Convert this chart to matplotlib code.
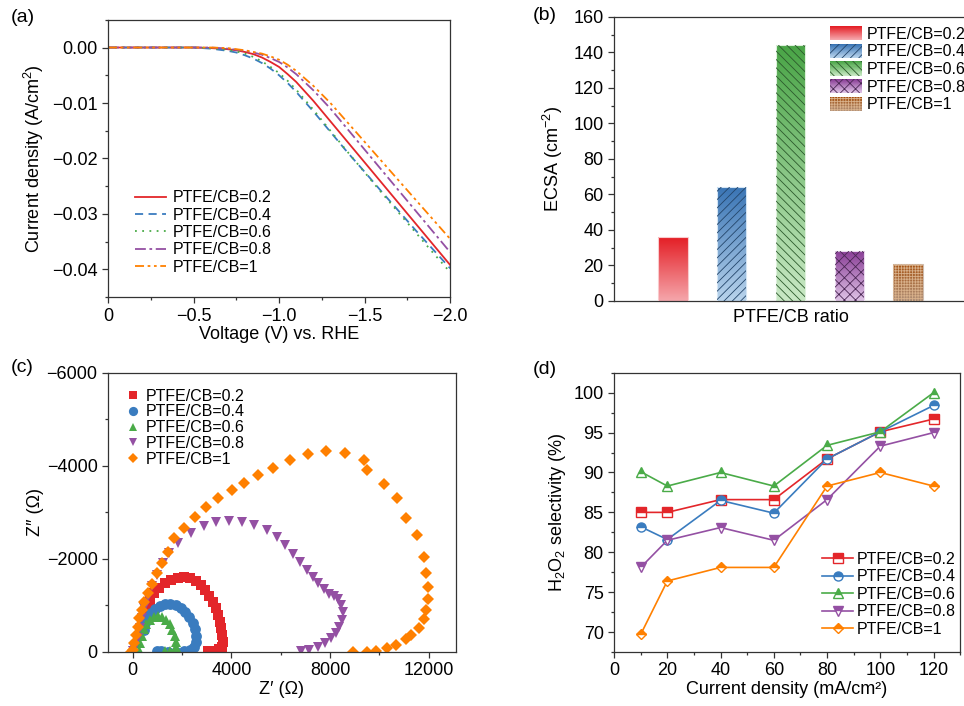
import numpy as np
import matplotlib
matplotlib.use('Agg')
import matplotlib.pyplot as plt
from matplotlib.patches import Rectangle
from matplotlib.legend_handler import HandlerBase
from matplotlib.colors import LinearSegmentedColormap, to_rgb
from matplotlib.ticker import MultipleLocator, FuncFormatter

plt.rcParams['font.family'] = ['Liberation Sans', 'DejaVu Sans']
plt.rcParams['mathtext.fontset'] = 'custom'
plt.rcParams['mathtext.rm'] = 'Liberation Sans'
plt.rcParams['mathtext.it'] = 'Liberation Sans:italic'
plt.rcParams['hatch.linewidth'] = 0.6

# ---------------- dados ----------------
labels = ['PTFE/CB=0.2', 'PTFE/CB=0.4', 'PTFE/CB=0.6', 'PTFE/CB=0.8', 'PTFE/CB=1']
cores = ['#e3262a', '#3a7cbf', '#4aab48', '#9450a3', '#ff8000']

# (a) LSV
volt = [0, -0.5, -0.6, -0.7, -0.75, -0.8, -0.85, -0.9, -0.95, -1.0, -1.05, -1.1, -1.2, -1.3,
        -1.4, -1.5, -1.6, -1.7, -1.8, -1.9, -2.0]
j_02 = [0, 0, -0.0001, -0.0003, -0.0005, -0.0008, -0.0012, -0.0018, -0.0026, -0.0035, -0.0048,
        -0.0062, -0.0096, -0.0133, -0.0170, -0.0207, -0.0244, -0.0281, -0.0318, -0.0355, -0.0392]
j_04 = [0, 0, -0.0002, -0.0006, -0.0009, -0.0014, -0.0020, -0.0028, -0.0038, -0.0050, -0.0064,
        -0.0080, -0.0115, -0.0152, -0.0189, -0.0224, -0.0260, -0.0295, -0.0330, -0.0364, -0.0398]
j_06 = [0, 0, -0.0001, -0.0004, -0.0007, -0.0011, -0.0017, -0.0025, -0.0035, -0.0046, -0.0060,
        -0.0076, -0.0112, -0.0150, -0.0188, -0.0225, -0.0262, -0.0298, -0.0334, -0.0370, -0.0405]
j_08 = [0, 0, 0, -0.0002, -0.0004, -0.0006, -0.0009, -0.0013, -0.0019, -0.0026, -0.0036,
        -0.0048, -0.0077, -0.0110, -0.0147, -0.0184, -0.0221, -0.0258, -0.0295, -0.0332, -0.0369]
j_1 = [0, 0, 0, -0.0001, -0.0003, -0.0005, -0.0008, -0.0011, -0.0016, -0.0022, -0.0031,
       -0.0042, -0.0069, -0.0100, -0.0135, -0.0170, -0.0205, -0.0240, -0.0275, -0.0310, -0.0345]

# (b) ECSA
ecsa = [36, 64, 144, 28, 21]
cor_topo = ['#e41f26', '#3a75b5', '#4aa547', '#8a3f97', '#a5500f']
cor_base = ['#f5a6ab', '#b8d3ec', '#c8e8c4', '#dfc3e6', '#ae8f78']
hachuras = [None, '////', '\\\\\\\\', 'xxx', '++++++']
cor_hach = ['none', '#24466b', '#2c5a2c', '#4b2755', '#d8b08a']

# (c) Nyquist
zr_02 = [405, 500, 608, 716, 878, 1080, 1310, 1553, 1823, 2093, 2336, 2565, 2767, 2943, 3105,
         3240, 3362, 3456, 3537, 3591, 3632, 3645, 3618, 3510, 3308, 3038]
zi_02 = [-473, -688, -903, -1104, -1261, -1383, -1476, -1548, -1598, -1612, -1583, -1526, -1440,
         -1333, -1211, -1082, -939, -796, -652, -509, -366, -222, -115, -57, -29, -14]
zr_04 = [446, 513, 608, 743, 905, 1094, 1310, 1526, 1742, 1944, 2133, 2295, 2430, 2525, 2579,
         2579, 2498, 2322, 2066, 1755, 1418, 1148, 985]
zi_04 = [-473, -616, -745, -846, -925, -989, -1032, -1039, -1011, -946, -853, -745, -616, -487,
         -351, -222, -115, -43, -14, -7, -7, -14, -28]
zr_06 = [270, 311, 365, 446, 554, 689, 851, 1026, 1202, 1364, 1499, 1607, 1701, 1755, 1769,
         1714, 1526, 1310]
zi_06 = [-43, -186, -344, -487, -602, -688, -753, -781, -760, -695, -595, -473, -344, -222, -115,
         -43, -14, -14]
zr_08 = [30, 68, 203, 297, 378, 473, 608, 783, 985, 1215, 1485, 1823, 2363, 2902, 3375, 3916,
         4415, 4928, 5441, 5832, 6184, 6508, 6791, 7061, 7290, 7493, 7736, 7966, 8169, 8331, 8439,
         8505, 8465, 8371, 8236, 8033, 7790, 7520, 7155, 6817]
zi_08 = [-20, -79, -294, -509, -724, -939, -1190, -1419, -1655, -1906, -2135, -2336, -2551, -2709,
         -2802, -2823, -2788, -2730, -2623, -2480, -2300, -2107, -1942, -1763, -1619, -1490, -1348,
         -1247, -1211, -1133, -1011, -867, -688, -545, -416, -294, -201, -115, -43, -22]
zr_1 = [-80, 0, 70, 135, 200, 270, 365, 475, 610, 770, 985, 1175, 1420, 1690, 2065, 2525, 2970,
        3470, 4010, 4495, 5090, 5670, 6385, 7090, 7830, 8610, 9355, 9490, 10195, 10720, 11095,
        11530, 11800, 11895, 11960, 11960, 11895, 11815, 11595, 11285, 11085, 10690, 10315, 9880,
        9490, 8925]
zi_1 = [-10, -40, -190, -365, -545, -725, -905, -1080, -1260, -1460, -1690, -1905, -2155, -2445,
        -2675, -2895, -3110, -3305, -3485, -3625, -3805, -3950, -4115, -4250, -4310, -4270, -4115,
        -3900, -3620, -3305, -2880, -2515, -2050, -1705, -1405, -1145, -905, -715, -510, -365,
        -275, -145, -80, -30, 0, 0]

# (d) seletividade
corrente = [10, 20, 40, 60, 80, 100, 120]
sel_02 = [85.0, 85.0, 86.6, 86.6, 91.7, 95.1, 96.7]
sel_04 = [83.2, 81.6, 86.5, 84.9, 91.7, 95.1, 98.4]
sel_06 = [90.1, 88.3, 90.0, 88.3, 93.4, 95.1, 100.0]
sel_08 = [78.1, 81.5, 83.1, 81.5, 86.6, 93.3, 95.0]
sel_1 = [69.7, 76.4, 78.1, 78.1, 88.3, 90.0, 88.3]

FS = 13
FL = 11.5


def estilo(ax):
    for s in ax.spines.values():
        s.set_color('#333333')
        s.set_linewidth(0.9)
    ax.tick_params(which='both', direction='out', color='#333333', width=0.9, labelsize=FS)
    ax.tick_params(which='major', length=4)
    ax.tick_params(which='minor', length=2.5)


def menos(fmt):
    def f(v, pos):
        s = fmt % v
        if abs(v) < 1e-12:
            s = fmt % 0
        return s.replace('-', '\u2212')
    return FuncFormatter(f)


def mistura(c1, c2, t):
    a = np.array(to_rgb(c1))
    b = np.array(to_rgb(c2))
    return tuple(a + (b - a) * t)


class HandlerGrad(HandlerBase):
    def __init__(self, topo, base, hach, hcor):
        super().__init__()
        self.topo, self.base, self.hach, self.hcor = topo, base, hach, hcor

    def create_artists(self, legend, orig_handle, xdescent, ydescent, width, height, fontsize, trans):
        arts = []
        n = 14
        for i in range(n):
            c = mistura(self.base, self.topo, i / (n - 1))
            r = Rectangle((-xdescent, -ydescent + height * i / n), width, height / n * 1.05,
                          facecolor=c, edgecolor='none', transform=trans)
            arts.append(r)
        if self.hach:
            arts.append(Rectangle((-xdescent, -ydescent), width, height, fill=False,
                                  hatch=self.hach, edgecolor=self.hcor, linewidth=0, transform=trans))
        return arts


fig = plt.figure(figsize=(9.64, 7.06), dpi=100)

# ---------------- (a) ----------------
ax1 = fig.add_axes([0.112, 0.579, 0.355, 0.393])
estilos = ['-', (0, (4.5, 3)), (0, (1, 3)), (0, (6, 2, 1.5, 2)), (0, (5, 2, 1.5, 2, 1.5, 2))]
for j, c, ls, lab in zip([j_02, j_04, j_06, j_08, j_1], cores, estilos, labels):
    ax1.plot(volt, j, color=c, linestyle=ls, linewidth=1.3, label=lab)
ax1.set_xlim(0, -2.0)
ax1.set_ylim(-0.045, 0.005)
ax1.xaxis.set_major_locator(MultipleLocator(0.5))
ax1.xaxis.set_minor_locator(MultipleLocator(0.25))
ax1.yaxis.set_major_locator(MultipleLocator(0.01))
ax1.yaxis.set_minor_locator(MultipleLocator(0.005))
ax1.xaxis.set_major_formatter(FuncFormatter(
    lambda v, p: '0' if abs(v) < 1e-9 else ('%.1f' % v).replace('-', '\u2212')))
ax1.yaxis.set_major_formatter(menos('%.2f'))
estilo(ax1)
ax1.set_xlabel('Voltage (V) vs. RHE', fontsize=FS, labelpad=1)
ax1.set_ylabel('Current density (A/cm$^2$)', fontsize=FS, labelpad=4)
ax1.legend(loc='upper left', bbox_to_anchor=(0.079, 0.386), frameon=False, fontsize=FL,
           handlelength=1.95, handletextpad=0.4, labelspacing=0.15, borderpad=0, borderaxespad=0)

# ---------------- (b) ----------------
ax2 = fig.add_axes([0.637, 0.574, 0.366, 0.402])
pos = np.arange(1, 6)
barras = ax2.bar(pos, ecsa, width=0.5, color='none', edgecolor='none')
handles = []
hmap = {}
for b, h, ct, cb, ha, hc, lab in zip(barras, ecsa, cor_topo, cor_base, hachuras, cor_hach, labels):
    x0 = b.get_x()
    w = b.get_width()
    cmap = LinearSegmentedColormap.from_list('g', [cb, ct])
    grad = np.linspace(0, 1, 100).reshape(-1, 1)
    im = ax2.imshow(grad, extent=(x0, x0 + w, 0, h), origin='lower', cmap=cmap, aspect='auto', zorder=2)
    im.set_clip_path(b)
    ax2.add_patch(Rectangle((x0, 0), w, h, fill=False, edgecolor=mistura(cb, '#ffffff', 0.4),
                            linewidth=0.8, zorder=3))
    if ha:
        ax2.add_patch(Rectangle((x0, 0), w, h, fill=False, hatch=ha, edgecolor=hc,
                                linewidth=0, zorder=3))
    hd = Rectangle((0, 0), 1, 1, label=lab)
    handles.append(hd)
    hmap[hd] = HandlerGrad(ct, cb, ha, hc)
ax2.set_xlim(0, 6)
ax2.set_ylim(0, 160)
ax2.yaxis.set_major_locator(MultipleLocator(20))
ax2.yaxis.set_minor_locator(MultipleLocator(10))
ax2.set_xticks([])
estilo(ax2)
ax2.set_xlabel('PTFE/CB ratio', fontsize=FS, labelpad=6)
ax2.set_ylabel('ECSA (cm$^{-2}$)', fontsize=FS, labelpad=6)
ax2.legend(handles=handles, handler_map=hmap, loc='upper left', bbox_to_anchor=(0.611, 0.968),
           frameon=False, fontsize=FL, handlelength=2.05, handleheight=1.0, handletextpad=0.25,
           labelspacing=0.13, borderpad=0, borderaxespad=0)

# ---------------- (c) ----------------
ax3 = fig.add_axes([0.112, 0.0765, 0.361, 0.3955])
marc = ['s', 'o', '^', 'v', 'D']
tam = [6.8, 7.8, 7.5, 7.5, 6.3]
for zr, zi, c, m, ms, lab in zip([zr_02, zr_04, zr_06, zr_08, zr_1], [zi_02, zi_04, zi_06, zi_08, zi_1],
                                 cores, marc, tam, labels):
    ax3.plot(zr, zi, linestyle='none', marker=m, markersize=ms, color=c, markeredgewidth=0,
             label=lab)
ax3.set_xlim(-1000, 13100)
ax3.set_ylim(0, -6000)
ax3.xaxis.set_major_locator(MultipleLocator(4000))
ax3.xaxis.set_minor_locator(MultipleLocator(2000))
ax3.yaxis.set_major_locator(MultipleLocator(2000))
ax3.yaxis.set_minor_locator(MultipleLocator(1000))
estilo(ax3)
ax3.set_xlabel('Z\u2032 (\u03a9)', fontsize=FS, labelpad=1)
ax3.set_ylabel('Z\u2033 (\u03a9)', fontsize=FS, labelpad=2)
ax3.legend(loc='upper left', bbox_to_anchor=(0.053, 0.943), frameon=False, fontsize=FL,
           handlelength=0.8, handletextpad=0.4, labelspacing=0.05, borderpad=0, borderaxespad=0,
           markerscale=0.85)

# ---------------- (d) ----------------
ax4 = fig.add_axes([0.637, 0.0765, 0.359, 0.3955])
for s, c, m, lab in zip([sel_02, sel_04, sel_06, sel_08, sel_1], cores, marc, labels):
    ax4.plot(corrente, s, color=c, linewidth=1.2, marker=m, markersize=6.5 if m != 'D' else 5.5,
             fillstyle='top', markerfacecoloralt='white', markeredgecolor=c, markeredgewidth=1,
             label=lab)
ax4.set_xlim(0, 130)
ax4.set_ylim(67.5, 102.5)
ax4.xaxis.set_major_locator(MultipleLocator(20))
ax4.xaxis.set_minor_locator(MultipleLocator(10))
ax4.yaxis.set_major_locator(MultipleLocator(5))
ax4.yaxis.set_minor_locator(MultipleLocator(2.5))
estilo(ax4)
ax4.set_xlabel('Current density (mA/cm\u00b2)', fontsize=FS, labelpad=1)
ax4.set_ylabel('H$_2$O$_2$ selectivity (%)', fontsize=FS, labelpad=4)
ax4.legend(loc='upper left', bbox_to_anchor=(0.601, 0.358), frameon=False, fontsize=FL,
           handlelength=1.95, handletextpad=0.25, labelspacing=0.15, borderpad=0, borderaxespad=0)

# letras dos paineis
fig.text(0.011, 0.975, '(a)', fontsize=14, va='center')
fig.text(0.553, 0.978, '(b)', fontsize=14, va='center')
fig.text(0.011, 0.48, '(c)', fontsize=14, va='center')
fig.text(0.553, 0.477, '(d)', fontsize=14, va='center')

fig.savefig('out.png', dpi=100)
